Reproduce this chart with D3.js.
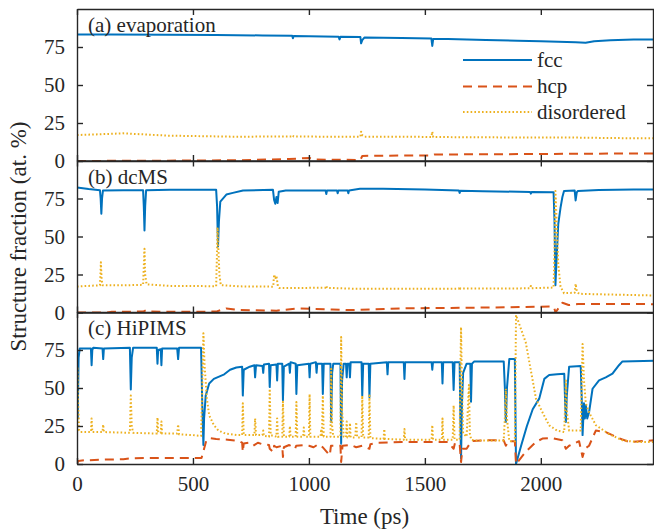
<!DOCTYPE html>
<html>
<head>
<meta charset="utf-8">
<script src="https://cdn.jsdelivr.net/npm/d3@7"></script>
<style>
  body { margin: 0; background: #fff; }
  svg text { font-family: "Liberation Serif", "Times New Roman", Times, serif; fill: #262626; }
</style>
</head>
<body>
<svg id="chart" width="654" height="529" font-family="Liberation Serif, Times New Roman, serif"></svg>
<script>
// ---- axis ticks and labels ----
const timeTicks = [0, 500, 1000, 1500, 2000];
const fracTicks = [0, 25, 50, 75];
const panelNames = ["(a) evaporation", "(b) dcMS", "(c) HiPIMS"];
const seriesNames = ["fcc", "hcp", "disordered"];
const seriesColors = ["#0072BD", "#D95319", "#EDB120"];

// ---- (a) evaporation: [time (ps), fraction (at. %)] ----
const evapFcc = [[0,83.3],[150,83.2],[390,83.1],[600,82.9],[800,82.6],[928,82.4],[931,80.7],[934,82.3],[1000,82.1],[1128,81.8],[1132,80],[1136,81.7],[1222,81.5],[1225,77.4],[1230,79.5],[1240,81.3],[1400,81],[1528,80.6],[1532,75.7],[1536,80.3],[1600,80.2],[1763,79.6],[1900,79.1],[2000,78.8],[2150,78.2],[2193,77.8],[2230,78.8],[2300,79.5],[2400,79.9],[2488,80]];
const evapHcp = [[0,0],[300,0.2],[500,0.3],[700,0.5],[915,1.3],[1003,2],[1020,1.1],[1100,0.8],[1222,0.7],[1230,3.3],[1300,3.5],[1530,3.6],[1540,4.2],[1700,4.4],[2000,4.6],[2200,4.8],[2488,5]];
const evapDis = [[0,17.1],[100,17.6],[200,18.2],[300,17.4],[390,16.7],[550,16.3],[675,16],[928,16.1],[931,16.8],[934,16.1],[1090,16],[1222,16],[1225,19.3],[1230,17],[1240,16],[1400,16],[1528,15.8],[1532,19.3],[1536,15.8],[1700,15.6],[1900,15.5],[2100,15.5],[2300,15.1],[2488,14.9]];

// ---- (b) dcMS ----
const dcmsFcc = [[0,82.2],[50,81.2],[99,80.4],[102,75],[105,65],[108,75],[112,80.3],[200,80.5],[285,80.5],[288,70],[291,54],[294,70],[298,80.4],[400,80.7],[500,80.8],[600,80.7],[604,70],[608,43.4],[612,60],[618,73],[644,77.6],[672,78.7],[716,80.3],[845,80.7],[850,74],[855,71.5],[860,76],[865,72],[870,79.5],[900,80.3],[1072,80.3],[1075,77.9],[1078,80.3],[1121,80.3],[1124,78.5],[1127,80.3],[1167,80.2],[1170,78.5],[1173,80.3],[1220,81.4],[1320,81.4],[1500,81],[1647,80.2],[1650,78.7],[1653,80.1],[1750,79.8],[1954,79.3],[1957,78.2],[1960,79.2],[2055,79.1],[2059,60],[2063,18],[2068,35],[2075,58],[2085,69],[2093,76],[2100,80],[2146,80.2],[2150,73.7],[2155,79],[2160,80],[2250,80.6],[2400,81],[2488,81]];
const dcmsHcp = [[0,0],[130,0],[150,0.5],[285,0.6],[300,1.6],[320,0.6],[420,0.5],[600,0.6],[644,2.7],[700,1.6],[860,1.2],[950,2.7],[1100,2],[1175,1.6],[1400,2.7],[1600,3],[1800,3.3],[2050,4],[2058,3],[2063,0],[2093,6.4],[2120,4.9],[2160,5.6],[2488,5.5]];
const dcmsDis = [[0,17.1],[99,17.9],[101,25],[103,33],[106,22],[110,18],[200,17.9],[285,18.2],[288,30],[291,41.9],[294,25],[300,18.5],[400,17.5],[600,17.3],[603,35],[606,56],[610,40],[614,25],[620,18],[700,17.2],[846,17],[850,25],[855,22],[860,24],[866,17.5],[872,16.2],[1000,16.2],[1072,16.3],[1075,17.6],[1078,16.2],[1200,15.6],[1400,15.6],[1647,15.7],[1650,17],[1653,15.7],[1954,15.9],[1957,17.5],[1960,16],[2055,16.4],[2059,40],[2063,80],[2068,60],[2075,32],[2085,17],[2100,12.7],[2146,13],[2150,18.9],[2155,14],[2165,12.3],[2300,11.8],[2488,11.2]];

// ---- (c) HiPIMS ----
const hipimsFcc = [[0,83],[3,30],[7,70],[12,76],[60,76],[63,65],[66,75],[70,76.5],[110,76],[113,69],[116,76],[228,76.5],[232,49],[236,70],[242,76.5],[344,76.5],[347,66],[350,75],[361,75.5],[364,65],[367,76],[432,76],[436,69],[440,76.5],[535,76.5],[540,40],[545,12.5],[548,30],[555,45],[570,53],[590,56],[635,59],[660,62],[687,63.5],[712,64],[715,45],[719,62],[745,64],[765,65],[768,57],[772,65],[800,64.5],[803,60],[806,65.5],[828,66],[831,50.6],[835,65],[860,65.5],[863,55],[866,66],[885,66],[888,42],[892,64],[915,66],[918,60],[921,67],[943,66],[946,46],[950,65],[1000,66],[1003,57],[1006,66],[1030,67],[1033,60],[1036,66],[1057,66],[1060,46],[1064,66],[1093,66],[1096,27.6],[1100,60],[1105,66],[1136,66],[1139,13.4],[1143,55],[1150,66],[1160,66],[1163,57],[1166,66],[1174,66],[1177,57],[1180,67],[1227,67],[1230,45],[1234,66],[1258,66],[1261,44],[1265,66],[1336,67],[1339,59],[1342,67],[1409,67],[1412,56],[1415,67],[1529,67],[1532,62],[1535,67],[1573,67],[1576,53],[1579,67],[1620,67],[1624,48.7],[1628,67],[1650,67],[1653,30],[1656,3.5],[1660,40],[1665,60],[1680,66],[1696,66],[1699,41],[1703,66],[1713,67.5],[1840,67.5],[1845,50],[1849,27.6],[1854,50],[1864,69],[1888,69],[1893,0],[1915,12],[1940,25],[1965,36],[1993,43],[2005,50],[2015,56],[2036,58.5],[2070,59],[2101,59.4],[2105,40],[2108,27.6],[2112,45],[2122,64],[2172,64.5],[2176,45],[2180,19],[2186,40],[2190,30],[2194,38.6],[2200,30],[2208,34],[2223,49.5],[2251,55],[2280,57],[2309,59.4],[2337,65],[2352,67.5],[2488,68]];
const hipimsHcp = [[0,0],[5,2],[30,2.4],[100,2.8],[200,3.2],[240,3.8],[300,4],[537,4],[548,10],[558,15.6],[575,17],[600,16.5],[650,16],[700,15],[712,14],[715,8],[719,13.5],[740,14],[760,12],[780,14],[800,13],[828,12.5],[831,10],[846,7.9],[850,12],[860,11],[885,12],[888,4.6],[892,11],[915,12.5],[940,10],[945,12],[980,12.5],[1000,12],[1020,11],[1040,13],[1060,11],[1090,5.7],[1095,12],[1136,12],[1139,1.3],[1145,12],[1180,12.5],[1204,11],[1230,12],[1261,10],[1265,13],[1300,14],[1400,14.5],[1600,14.5],[1624,10],[1630,14],[1650,13],[1656,1.3],[1662,10],[1680,10],[1700,15],[1750,15.6],[1840,15.6],[1849,12],[1860,15],[1888,15],[1893,0],[1935,8],[1979,14.5],[2007,16.7],[2050,17],[2093,15.6],[2108,10],[2122,12],[2165,15],[2180,4.6],[2190,10],[2208,12],[2237,22],[2280,21],[2337,17],[2380,14.5],[2488,15.6]];
const hipimsDis = [[0,20],[2,64],[5,40],[9,22],[15,21],[60,21],[63,30],[66,21],[110,21],[113,26],[116,21],[228,20.5],[232,45],[236,25],[242,20.5],[344,20],[347,30.6],[350,21],[361,20.5],[364,28],[367,20],[432,20],[436,26],[440,19.5],[500,19],[535,18.5],[540,50],[545,86],[550,65],[560,43],[570,32],[590,25.6],[610,22],[640,20],[690,19],[712,19],[715,40],[719,19],[765,19],[768,30],[772,19],[800,19],[803,22],[806,18.5],[828,18],[831,49.5],[835,19],[860,18],[863,30],[866,18],[885,18],[888,41],[892,18],[915,18],[918,25],[921,18],[943,18],[946,40.8],[950,18],[975,18],[978,24],[981,18],[1000,18],[1003,46],[1006,18],[1050,18],[1053,23],[1056,18],[1060,45],[1064,18],[1093,18],[1096,62.7],[1100,25],[1105,18],[1136,18],[1139,83.5],[1143,35],[1150,18],[1160,17.5],[1163,28],[1166,17.5],[1174,17.5],[1177,27],[1180,17.5],[1200,17.5],[1204,27.6],[1208,17.5],[1227,17.5],[1230,45],[1234,17.5],[1258,17.5],[1261,45],[1265,17],[1322,16.5],[1325,23],[1328,16.5],[1409,16],[1412,23],[1415,16],[1529,16],[1532,25.6],[1535,16],[1573,16],[1576,30],[1579,16],[1620,16],[1624,38.6],[1628,16],[1650,16],[1653,60],[1656,90],[1660,50],[1665,20],[1680,18],[1690,52],[1694,20],[1700,16],[1713,15.5],[1840,15.5],[1845,30],[1849,49.5],[1854,30],[1864,15],[1888,15],[1893,98],[1935,80],[1979,43],[2007,34],[2036,25.4],[2070,22],[2101,21],[2105,40],[2108,55],[2112,35],[2122,22],[2172,22],[2176,50],[2180,79],[2186,55],[2194,40],[2208,34],[2237,25.6],[2294,19.7],[2352,15.6],[2409,14.5],[2488,14.5]];

const panels = [
  { name: panelNames[0], series: [evapFcc, evapHcp, evapDis] },
  { name: panelNames[1], series: [dcmsFcc, dcmsHcp, dcmsDis] },
  { name: panelNames[2], series: [hipimsFcc, hipimsHcp, hipimsDis] }
];

// ---- layout ----
const svg = d3.select("#chart");
const left = 77, right = 654;
const panelTop = [9, 160.5, 312];
const panelH = 152;
const dashes = [null, "9,6", "1.6,2.2"];
const axisColor = "#262626";
const serif = '"Liberation Serif", "Times New Roman", Times, serif';

const x = d3.scaleLinear().domain([0, 2488]).range([left, right]);

panels.forEach((p, i) => {
  const top = panelTop[i], bottom = top + panelH;
  const y = d3.scaleLinear().domain([0, 100]).range([bottom, top]);
  const g = svg.append("g");

  const clipId = "clip" + i;
  svg.append("clipPath").attr("id", clipId)
    .append("rect").attr("x", left).attr("y", top).attr("width", right - left).attr("height", panelH);

  const line = d3.line().x(d => x(d[0])).y(d => y(d[1]));
  const lines = g.append("g").attr("clip-path", `url(#${clipId})`);
  p.series.forEach((s, k) => {
    lines.append("path")
      .datum(s)
      .attr("d", line)
      .attr("fill", "none")
      .attr("stroke", seriesColors[k])
      .attr("stroke-width", 2)
      .attr("stroke-linejoin", "round")
      .attr("stroke-dasharray", dashes[k]);
  });

  // box with inward ticks on all four sides
  const styleAxis = sel => {
    sel.attr("font-family", serif).attr("font-size", 21);
    sel.selectAll("path.domain").attr("stroke", axisColor).attr("stroke-width", 1.4);
    sel.selectAll(".tick line").attr("stroke", axisColor).attr("stroke-width", 1.4);
    sel.selectAll("text").attr("fill", axisColor);
  };
  const fmt = d3.format("d");
  const ax = g.append("g");
  ax.append("g").attr("transform", `translate(${left},0)`)
    .call(d3.axisLeft(y).tickValues(fracTicks).tickFormat(fmt).tickSizeInner(-6).tickSizeOuter(0).tickPadding(12))
    .call(styleAxis);
  ax.append("g").attr("transform", `translate(${right - 1},0)`)
    .call(d3.axisRight(y).tickValues(fracTicks).tickSizeInner(-6).tickSizeOuter(0).tickFormat(""))
    .call(styleAxis);
  ax.append("g").attr("transform", `translate(0,${top})`)
    .call(d3.axisTop(x).tickValues(timeTicks).tickSizeInner(-6).tickSizeOuter(0).tickFormat(""))
    .call(styleAxis);
  const bottomAxis = d3.axisBottom(x).tickValues(timeTicks).tickSizeInner(-6).tickSizeOuter(0).tickPadding(12)
    .tickFormat(i < 2 ? "" : fmt);
  ax.append("g").attr("transform", `translate(0,${bottom})`)
    .call(bottomAxis)
    .call(styleAxis);

  g.append("text")
    .attr("x", 88).attr("y", top + 23)
    .attr("font-family", serif)
    .attr("font-size", 21)
    .text(p.name);
});

// legend in the first panel
const legendRows = [60, 86.5, 112];
const legend = svg.append("g").attr("font-family", serif).attr("font-size", 21);
seriesNames.forEach((name, k) => {
  legend.append("line")
    .attr("x1", 463).attr("x2", 532)
    .attr("y1", legendRows[k]).attr("y2", legendRows[k])
    .attr("stroke", seriesColors[k]).attr("stroke-width", 2)
    .attr("stroke-dasharray", dashes[k]);
  legend.append("text")
    .attr("x", 537).attr("y", legendRows[k]).attr("dy", "0.33em")
    .text(name);
});

// axis titles
svg.append("text")
  .attr("x", (left + right) / 2 - 1).attr("y", 524)
  .attr("text-anchor", "middle")
  .attr("font-family", serif)
  .attr("font-size", 23)
  .text("Time (ps)");
svg.append("text")
  .attr("transform", `translate(26,${(panelTop[0] + panelTop[2] + panelH) / 2}) rotate(-90)`)
  .attr("text-anchor", "middle")
  .attr("font-family", serif)
  .attr("font-size", 23)
  .text("Structure fraction (at. %)");
</script>
</body>
</html>
